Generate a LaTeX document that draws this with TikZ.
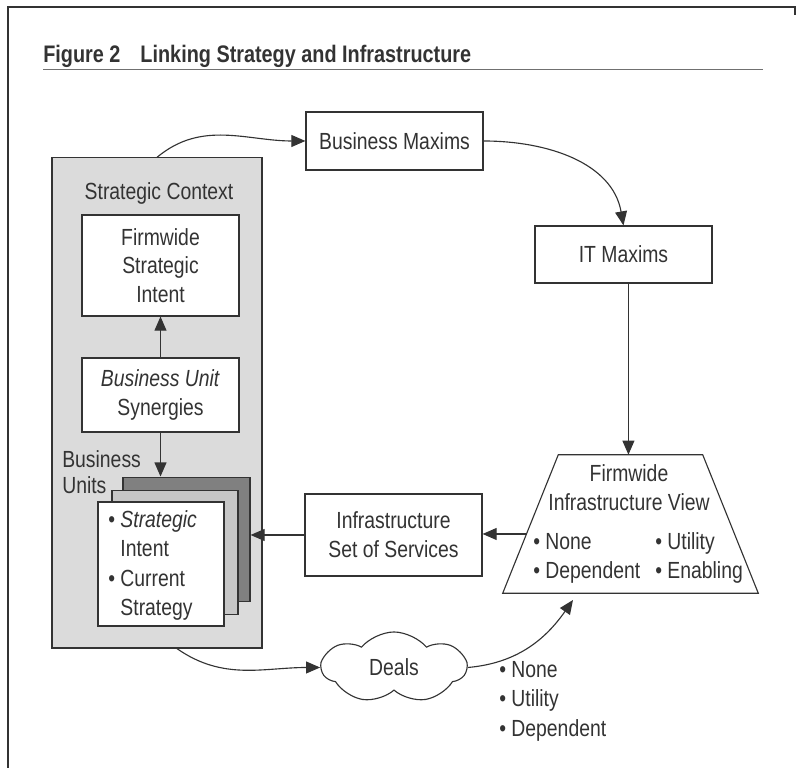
\documentclass[tikz,border=0pt]{standalone}
\usepackage{fontspec}
\setmainfont{Liberation Sans}[FakeStretch=0.83]
\usetikzlibrary{arrows.meta,shapes.symbols}
\definecolor{ink}{HTML}{333333}
\definecolor{ctxgray}{gray}{0.86}
\definecolor{midgray}{gray}{0.78}
\definecolor{backgray}{gray}{0.5}

\begin{document}
\begin{tikzpicture}[x=0.025cm,y=0.025cm]
        % Define styles for boxes, text and arrows
        \tikzstyle{lbl}=[font=\fontsize{16.6}{20.5}\selectfont, text=ink, inner sep=0pt]
        \tikzstyle{box}=[lbl, draw=ink, fill=white, line width=0.8pt, align=center]
        \tikzstyle{card}=[draw=ink, line width=0.8pt, minimum width=3.15cm, minimum height=3.12cm]
        \tikzstyle{arr}=[draw=ink, line width=0.8pt, -{Triangle[length=10pt,width=8.5pt]}]
        \useasboundingbox (0,0) rectangle (798,768);

        % Frame and title
        \draw[ink, line width=1pt] (8,0) -- (8,761) -- (795,761) -- (795,753);
        \node[lbl, anchor=base west, font=\fontsize{17}{20}\selectfont\bfseries] (title) at (43,705)
          {Figure 2\hspace{0.5cm}Linking Strategy and Infrastructure};
        \draw[ink!70, line width=0.6pt] (43,699) -- (763,699);

        % Strategic context
        \node[draw=ink, fill=ctxgray, line width=0.8pt, minimum width=5.25cm, minimum height=12.25cm] (ctx) at (157,365) {};
        \node[lbl] (ctxname) at (159,575) {Strategic Context};
        \node[box, minimum width=3.925cm, minimum height=2.525cm] (intent) at (160.5,502.5) {Firmwide\\Strategic\\Intent};
        \node[box, minimum width=3.925cm, minimum height=1.85cm] (synergy) at (160.5,373) {\textit{Business Unit}\\Synergies};
        \node[lbl, align=left, anchor=north west, font=\fontsize{16.6}{18.5}\selectfont] (unitsname) at (62,318) {Business\\Units};

        % Business units
        \node[card, fill=backgray, minimum width=3.175cm] (back) at (186.5,228.5) {};
        \node[card, fill=midgray] (mid) at (175,215.5) {};
        \node[card, fill=white, minimum height=3.1cm] (front) at (161,204) {};
        \node[lbl, align=left, anchor=north west, font=\fontsize{16.6}{21}\selectfont] (units) at (108,258)
          {\textbullet\ \textit{Strategic}\\\phantom{\textbullet\ }Intent\\\textbullet\ Current\\\phantom{\textbullet\ }Strategy};

        % Maxims
        \node[box, minimum width=4.425cm, minimum height=1.45cm] (bmax) at (394.5,627) {Business Maxims};
        \node[box, minimum width=4.425cm, minimum height=1.425cm] (itmax) at (623.5,513.5) {IT Maxims};

        % Infrastructure view (trapezoid drawn on its node)
        \node[minimum width=6.375cm, minimum height=3.45cm, inner sep=0pt] (view) at (630.5,244) {};
        \draw[ink, line width=0.8pt, line join=miter] (view.south west) -- ([xshift=1.39cm]view.north west)
          -- ([xshift=-1.39cm]view.north east) -- (view.south east) -- cycle;
        \node[lbl, align=center] (viewname) at (629,280) {Firmwide\\Infrastructure View};
        \node[lbl, anchor=north west, font=\fontsize{16.6}{20}\selectfont] (viewlist) at (533,238)
          {\begin{tabular}{@{}p{3.05cm}@{}l@{}}
            \textbullet\ None & \textbullet\ Utility\\
            \textbullet\ Dependent & \textbullet\ Enabling
          \end{tabular}};
        \node[box, minimum width=4.425cm, minimum height=2.05cm] (iss) at (393.5,233) {Infrastructure\\Set of Services};

        % Deals
        \node[cloud, draw=ink, line width=0.8pt, cloud puffs=7, cloud puff arc=100, cloud ignores aspect,
          minimum width=3.6cm, minimum height=1.775cm, lbl] (deals) at (394,100.5) {Deals};
        \node[lbl, align=left, anchor=north west, font=\fontsize{16.6}{21}\selectfont] (dealtypes) at (499,107)
          {\textbullet\ None\\\textbullet\ Utility\\\textbullet\ Dependent};

        \coordinate (viewin) at (527,234);
        \coordinate (viewfoot) at (573,168);

        % Draw arrows
        \draw[arr] (ctx.north) to[out=40,in=180] (bmax.west);
        \draw[arr] (bmax.east) to[out=0,in=100] (itmax.north);
        \draw[arr] ([xshift=3.5pt]itmax.south) -- ([xshift=3.5pt]itmax.south |- view.north);
        \draw[arr] (viewin) -- (viewin -| iss.east);
        \draw[arr] (iss.west) -- (iss.west -| back.east);
        \draw[arr] (synergy) -- (intent);
        \draw[arr] (synergy.south) -- (synergy.south |- back.north);
        \draw[arr] ([xshift=0.5cm]ctx.south) to[out=-35,in=180] (deals.west);
        \draw[arr] (deals.east) to[out=5,in=-125] (viewfoot);

\end{tikzpicture}
\end{document}
